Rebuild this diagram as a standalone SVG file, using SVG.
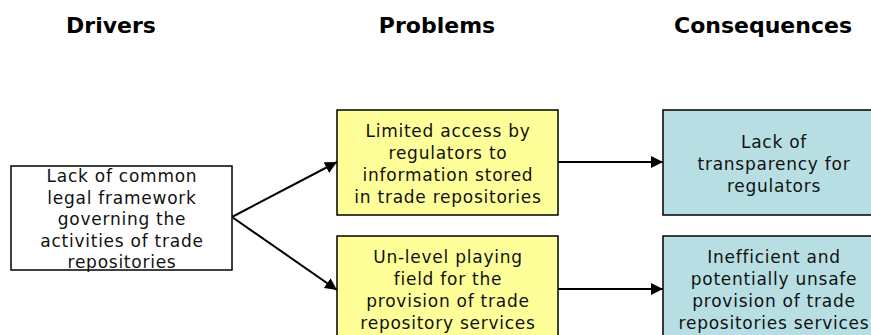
<svg xmlns="http://www.w3.org/2000/svg" width="871" height="335" viewBox="0 0 871 335">
<style>
.h{font-family:"DejaVu Sans",Verdana,sans-serif;font-weight:bold;font-size:22px;fill:#000;text-anchor:middle}
.t{font-family:"DejaVu Sans",Verdana,sans-serif;font-size:17px;letter-spacing:0.75px;fill:#111;text-anchor:middle}
.box{stroke:#000;stroke-width:1.5}
.w{fill:#fff}.y{fill:#ffff99}.c{fill:#b7dfe3}
.ln{stroke:#000;stroke-width:2;fill:none;marker-end:url(#ah)}
</style>
<defs>
<marker id="ah" viewBox="0 0 10 10" refX="10" refY="5" markerWidth="6" markerHeight="6" markerUnits="strokeWidth" orient="auto">
<path d="M0,0 L10,5 L0,10 z" fill="#000"/>
</marker>
</defs>
<rect width="871" height="335" fill="#fff"/>
<g id="headers">
<text class="h" x="111" y="33">Drivers</text>
<text class="h" x="437" y="33">Problems</text>
<text class="h" x="763" y="33">Consequences</text>
</g>
<g id="connectors">
<line class="ln" x1="232" y1="217" x2="337" y2="162"/>
<line class="ln" x1="232" y1="217" x2="337" y2="290"/>
<line class="ln" x1="558" y1="162" x2="663" y2="162"/>
<line class="ln" x1="558" y1="289" x2="663" y2="289"/>
</g>
<g id="driver">
<rect class="box w" x="11" y="166" width="221" height="104"/>
<text class="t" x="122" y="182">Lack of common</text>
<text class="t" x="122" y="203.5">legal framework</text>
<text class="t" x="122" y="225">governing the</text>
<text class="t" x="122" y="246.5">activities of trade</text>
<text class="t" x="122" y="268">repositories</text>
</g>
<g id="problem1">
<rect class="box y" x="337" y="110" width="221" height="105"/>
<text class="t" x="448" y="137">Limited access by</text>
<text class="t" x="448" y="159">regulators to</text>
<text class="t" x="448" y="181">information stored</text>
<text class="t" x="448" y="203">in trade repositories</text>
</g>
<g id="problem2">
<rect class="box y" x="337" y="236" width="221" height="110"/>
<text class="t" x="448" y="263">Un-level playing</text>
<text class="t" x="448" y="285">field for the</text>
<text class="t" x="448" y="307">provision of trade</text>
<text class="t" x="448" y="329">repository services</text>
</g>
<g id="consequence1">
<rect class="box c" x="663" y="110" width="221" height="105"/>
<text class="t" x="774" y="148">Lack of</text>
<text class="t" x="774" y="170">transparency for</text>
<text class="t" x="774" y="192">regulators</text>
</g>
<g id="consequence2">
<rect class="box c" x="663" y="236" width="221" height="110"/>
<text class="t" x="774" y="263">Inefficient and</text>
<text class="t" x="774" y="285">potentially unsafe</text>
<text class="t" x="774" y="307">provision of trade</text>
<text class="t" x="774" y="329">repositories services</text>
</g>
</svg>
